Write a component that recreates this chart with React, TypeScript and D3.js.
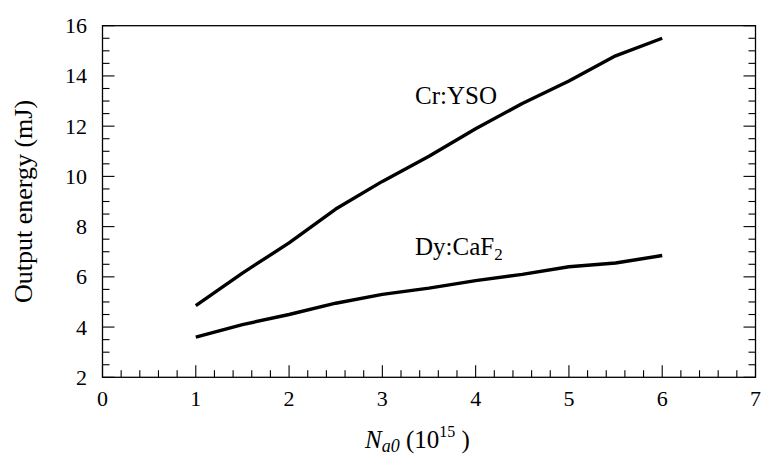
import React from "react";
import * as d3 from "d3";

// Output energy vs. N_a0 for two saturable absorbers
const xValues = [1, 1.5, 2, 2.5, 3, 3.5, 4, 4.5, 5, 5.5, 6];
const crYso = [4.85, 6.15, 7.35, 8.7, 9.8, 10.8, 11.9, 12.9, 13.8, 14.8, 15.5];
const dyCaF2 = [3.6, 4.1, 4.5, 4.95, 5.3, 5.55, 5.85, 6.1, 6.4, 6.55, 6.85];
const xTicks = [0, 1, 2, 3, 4, 5, 6, 7];
const yTicks = [2, 4, 6, 8, 10, 12, 14, 16];

const W = 763;
const H = 457;
const left = 102.5;
const right = 755.5;
const top = 25.7;
const bottom = 377.3;
const FONT = "'Liberation Serif', 'Times New Roman', serif";

export default function App() {
  const x = d3.scaleLinear().domain([0, 7]).range([left, right]);
  const y = d3.scaleLinear().domain([2, 16]).range([bottom, top]);

  const line = d3
    .line<number>()
    .x((_, i) => x(xValues[i]))
    .y((d) => y(d));

  const xMinor = d3.range(0, 7.0001, 0.2).map((v) => Math.round(v * 10) / 10);
  const yMinor = d3.range(2, 16.0001, 0.5);

  return (
    <svg
      width={W}
      height={H}
      style={{ position: "absolute", left: 0, top: 0, background: "#fff" }}
      fontFamily={FONT}
    >
      {/* frame */}
      <rect
        x={left}
        y={top}
        width={right - left}
        height={bottom - top}
        fill="none"
        stroke="#000"
        strokeWidth={1.3}
      />

      {/* bottom ticks */}
      {xMinor.map((v, i) => {
        const major = Math.abs(v - Math.round(v)) < 1e-6;
        return (
          <line
            key={"xt" + i}
            x1={x(v)}
            x2={x(v)}
            y1={bottom}
            y2={bottom - (major ? 12 : 7)}
            stroke="#000"
            strokeWidth={1.1}
          />
        );
      })}

      {/* left and right ticks */}
      {yMinor.map((v, i) => {
        const major = Math.abs(v % 2) < 1e-6;
        const len = major ? 12 : 7;
        return (
          <g key={"yt" + i}>
            <line x1={left} x2={left + len} y1={y(v)} y2={y(v)} stroke="#000" strokeWidth={1.1} />
            <line x1={right} x2={right - len} y1={y(v)} y2={y(v)} stroke="#000" strokeWidth={1.1} />
          </g>
        );
      })}

      {/* tick labels */}
      {xTicks.map((v) => (
        <text key={"xl" + v} x={x(v)} y={406} fontSize={22} textAnchor="middle">
          {v}
        </text>
      ))}
      {yTicks.map((v) => (
        <text
          key={"yl" + v}
          x={87}
          y={y(v)}
          dy="0.34em"
          fontSize={22}
          textAnchor="end"
        >
          {v}
        </text>
      ))}

      {/* series */}
      <path d={line(crYso) ?? ""} fill="none" stroke="#000" strokeWidth={3.4} strokeLinejoin="round" />
      <path d={line(dyCaF2) ?? ""} fill="none" stroke="#000" strokeWidth={3.4} strokeLinejoin="round" />

      {/* series labels */}
      <text x={415} y={104} fontSize={25}>
        Cr:YSO
      </text>
      <text x={415} y={254.5} fontSize={25}>
        Dy:CaF
        <tspan fontSize={17} dy={5}>2</tspan>
      </text>

      {/* axis titles */}
      <text x={365} y={448} fontSize={25}>
        <tspan fontStyle="italic">N</tspan>
        <tspan fontStyle="italic" fontSize={18} dy={4}>a0</tspan>
        <tspan dy={-4}> (10</tspan>
        <tspan fontSize={16} dy={-11}>15</tspan>
        <tspan dy={11}> )</tspan>
      </text>
      <text
        transform={`translate(31.5, 201.5) rotate(-90)`}
        fontSize={26}
        textAnchor="middle"
      >
        Output energy (mJ)
      </text>
    </svg>
  );
}
